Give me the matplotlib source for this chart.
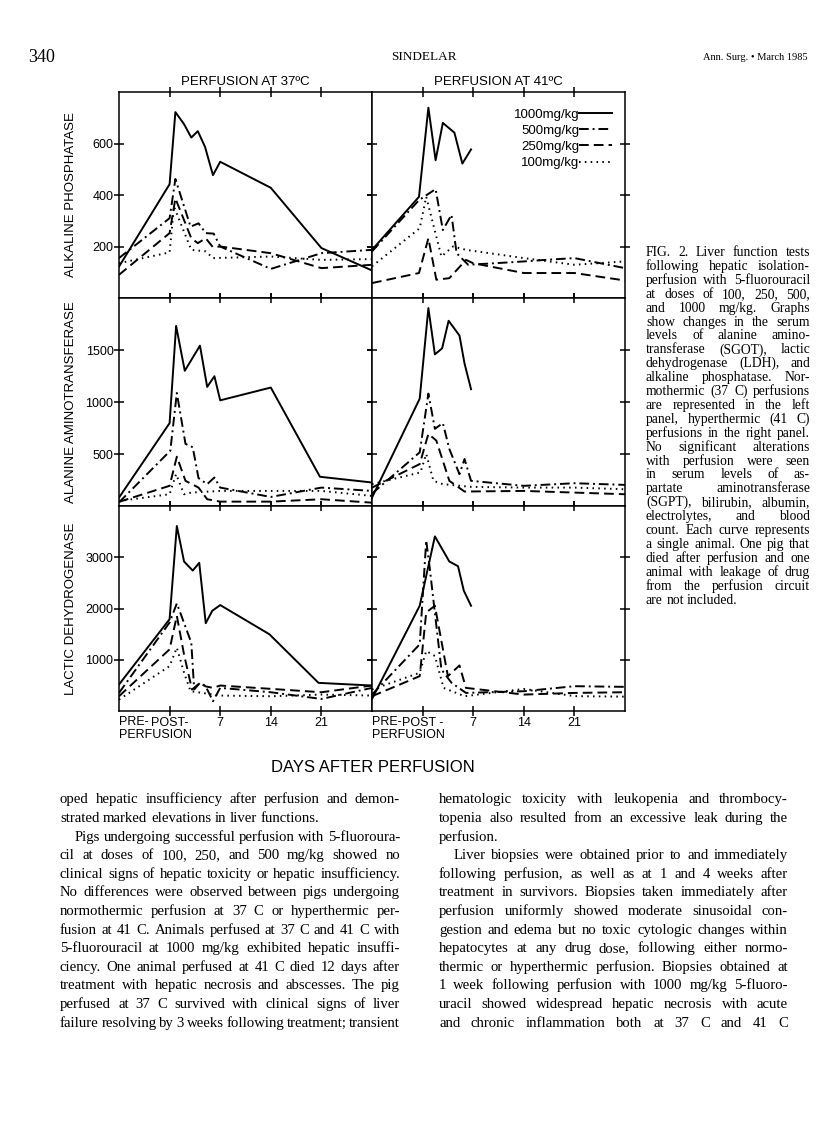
"""Page 340 of Sindelar, Ann. Surg. 1985: Fig. 2, liver function tests after
hepatic isolation-perfusion, with its caption and the surrounding text."""

import matplotlib
matplotlib.use("Agg")
import matplotlib.pyplot as plt
from matplotlib.lines import Line2D
from matplotlib.transforms import blended_transform_factory

W, H = 816, 1132
SANS = "Liberation Sans"
SERIF = "Liberation Serif"
plt.rcParams["font.family"] = SANS

DOSES = ["1000mg/kg", "500mg/kg", "250mg/kg", "100mg/kg"]

# x values: PRE = -7, POST = 0, then days after perfusion
# Alkaline phosphatase, 37 C
ALP37_1000_X = [-7, 0, 0.8, 2.0, 3.0, 3.9, 4.9, 6.0, 7, 14, 21, 28]
ALP37_1000_Y = [122, 442, 722, 675, 623, 648, 587, 477, 529, 428, 194, 107]
ALP37_500_X = [-7, 0, 0.8, 2.9, 4.0, 5.0, 6.1, 7, 14, 21, 28]
ALP37_500_Y = [155, 310, 462, 277, 290, 252, 250, 200, 113, 174, 187]
ALP37_250_X = [-7, 0, 0.8, 3.0, 3.9, 5.0, 6.0, 7, 14, 21, 28]
ALP37_250_Y = [90, 252, 387, 232, 213, 232, 197, 200, 174, 116, 129]
ALP37_100_X = [-7, 0, 0.6, 3.0, 5.0, 6.0, 14, 21, 28]
ALP37_100_Y = [135, 177, 355, 187, 181, 155, 161, 148, 151]

# Alkaline phosphatase, 41 C
ALP41_1000_X = [-7, -0.5, 0.8, 1.8, 2.8, 4.4, 5.5, 6.7]
ALP41_1000_Y = [187, 393, 739, 535, 680, 642, 522, 577]
ALP41_500_X = [-7, -0.5, 1.8, 2.8, 4.0, 4.7, 6.3, 10, 14, 17, 21, 28]
ALP41_500_Y = [181, 380, 423, 264, 323, 174, 129, 135, 142, 148, 155, 116]
ALP41_250_X = [-7, -0.5, 0.8, 1.9, 3.7, 6.0, 7, 14, 21, 28]
ALP41_250_Y = [58, 97, 232, 71, 77, 148, 135, 97, 97, 68]
ALP41_100_X = [-7, -0.4, 0.5, 2.6, 4.2, 6.0, 14, 21, 28]
ALP41_100_Y = [123, 271, 393, 161, 200, 187, 155, 129, 142]

# Alanine aminotransferase, 37 C
ALT37_1000_X = [-7, 0, 0.9, 2.1, 4.2, 5.2, 6.2, 7, 14, 20.8, 28]
ALT37_1000_Y = [81, 797, 1732, 1300, 1542, 1145, 1248, 1016, 1139, 281, 226]
ALT37_500_X = [-7, 0.1, 1.0, 2.2, 3.2, 4.0, 5.2, 6.2, 7, 14, 21, 28]
ALT37_500_Y = [35, 532, 1087, 597, 565, 268, 210, 274, 177, 87, 177, 145]
ALT37_250_X = [-7, 0, 1.0, 2.2, 4.0, 5.2, 7, 14, 21, 28]
ALT37_250_Y = [40, 194, 474, 242, 177, 65, 42, 42, 65, 32]
ALT37_100_X = [-7, 0, 0.9, 2.0, 3.0, 7, 14, 21, 28]
ALT37_100_Y = [48, 113, 306, 113, 129, 145, 145, 145, 97]

# Alanine aminotransferase, 41 C
ALT41_1000_X = [-7, -0.4, 0.8, 1.7, 2.7, 3.6, 5.1, 5.8, 6.7]
ALT41_1000_Y = [81, 1032, 1903, 1458, 1516, 1781, 1639, 1371, 1123]
ALT41_500_X = [-7, -0.4, 0.8, 1.7, 2.8, 3.7, 5.1, 5.8, 6.7, 14, 21, 28]
ALT41_500_Y = [119, 516, 1081, 742, 797, 548, 306, 452, 242, 194, 219, 203]
ALT41_250_X = [-7, -0.4, 0.8, 1.9, 3.7, 5.8, 14, 21, 28]
ALT41_250_Y = [177, 403, 694, 629, 242, 139, 145, 129, 113]
ALT41_100_X = [-7, -0.3, 0.5, 1.5, 2.8, 6.7, 14, 21, 28]
ALT41_100_Y = [210, 323, 500, 242, 210, 184, 177, 177, 161]

# Lactic dehydrogenase, 37 C
LDH37_1000_X = [-7, 0, 1.0, 2.0, 3.2, 4.1, 5.0, 5.9, 7, 13.8, 20.6, 28]
LDH37_1000_Y = [517, 1792, 3610, 2917, 2740, 2891, 1713, 1955, 2067, 1498, 549, 497]
LDH37_500_X = [-7, 0, 1.0, 3.0, 3.4, 4.2, 5.0, 6.0, 7, 14, 21, 28]
LDH37_500_Y = [353, 1727, 2099, 1334, 420, 549, 480, 190, 451, 366, 235, 451]
LDH37_250_X = [-7, 0, 1.0, 2.0, 3.1, 4.2, 5.0, 6.0, 7, 14, 21, 28]
LDH37_250_Y = [288, 1203, 1857, 1100, 419, 549, 480, 451, 497, 432, 366, 497]
LDH37_100_X = [-7, 0, 1.0, 2.0, 2.9, 7, 14, 21, 28]
LDH37_100_Y = [222, 876, 1236, 746, 386, 301, 288, 320, 301]

# Lactic dehydrogenase, 41 C
LDH41_1000_X = [-7, -0.4, 1.7, 3.7, 4.9, 5.7, 6.7]
LDH41_1000_Y = [235, 2054, 3407, 2917, 2825, 2348, 2054]
LDH41_500_X = [-7, -0.4, 0.5, 1.0, 2.6, 4.0, 6.0, 14, 21, 28]
LDH41_500_Y = [320, 1301, 3329, 2773, 811, 550, 353, 386, 484, 471]
LDH41_250_X = [-7, -0.4, 0.5, 1.7, 3.5, 5.1, 6.0, 14, 21, 28]
LDH41_250_Y = [288, 680, 1923, 2054, 680, 889, 451, 320, 353, 366]
LDH41_100_X = [-7, -0.4, 0.5, 1.7, 2.9, 5.8, 14, 21, 28]
LDH41_100_Y = [419, 746, 1171, 1073, 451, 288, 430, 290, 280]

ROW_LABELS = ["ALKALINE PHOSPHATASE", "ALANINE AMINOTRANSFERASE", "LACTIC DEHYDROGENASE"]
ROW_TICKS = [[200, 400, 600], [500, 1000, 1500], [1000, 2000, 3000]]
ROW_YMAX = [800, 2000, 4000]
COL_TITLES = ["PERFUSION AT 37\u00baC", "PERFUSION AT 41\u00baC"]

CAPTION = [
    "FIG. 2. Liver function tests",
    "following hepatic isolation-",
    "perfusion with 5-fluorouracil",
    "at doses of 100, 250, 500,",
    "and 1000 mg/kg. Graphs",
    "show changes in the serum",
    "levels of alanine amino-",
    "transferase (SGOT), lactic",
    "dehydrogenase (LDH), and",
    "alkaline phosphatase. Nor-",
    "mothermic (37 C) perfusions",
    "are represented in the left",
    "panel, hyperthermic (41 C)",
    "perfusions in the right panel.",
    "No significant alterations",
    "with perfusion were seen",
    "in serum levels of as-",
    "partate aminotransferase",
    "(SGPT), bilirubin, albumin,",
    "electrolytes, and blood",
    "count. Each curve represents",
    "a single animal. One pig that",
    "died after perfusion and one",
    "animal with leakage of drug",
    "from the perfusion circuit",
    "are not included.",
]

LEFT_COLUMN = [
    "oped hepatic insufficiency after perfusion and demon-",
    "strated marked elevations in liver functions.",
    "Pigs undergoing successful perfusion with 5-fluoroura-",
    "cil at doses of 100, 250, and 500 mg/kg showed no",
    "clinical signs of hepatic toxicity or hepatic insufficiency.",
    "No differences were observed between pigs undergoing",
    "normothermic perfusion at 37 C or hyperthermic per-",
    "fusion at 41 C. Animals perfused at 37 C and 41 C with",
    "5-fluorouracil at 1000 mg/kg exhibited hepatic insuffi-",
    "ciency. One animal perfused at 41 C died 12 days after",
    "treatment with hepatic necrosis and abscesses. The pig",
    "perfused at 37 C survived with clinical signs of liver",
    "failure resolving by 3 weeks following treatment; transient",
]

RIGHT_COLUMN = [
    "hematologic toxicity with leukopenia and thrombocy-",
    "topenia also resulted from an excessive leak during the",
    "perfusion.",
    "Liver biopsies were obtained prior to and immediately",
    "following perfusion, as well as at 1 and 4 weeks after",
    "treatment in survivors. Biopsies taken immediately after",
    "perfusion uniformly showed moderate sinusoidal con-",
    "gestion and edema but no toxic cytologic changes within",
    "hepatocytes at any drug dose, following either normo-",
    "thermic or hyperthermic perfusion. Biopsies obtained at",
    "1 week following perfusion with 1000 mg/kg 5-fluoro-",
    "uracil showed widespread hepatic necrosis with acute",
    "and chronic inflammation both at 37 C and 41 C",
]

STYLES = ["-", (0, (5, 2, 1, 2)), (0, (5, 2.6)), (0, (0.8, 2.2))]

PANELS = [
    [
        [(ALP37_1000_X, ALP37_1000_Y), (ALP37_500_X, ALP37_500_Y),
         (ALP37_250_X, ALP37_250_Y), (ALP37_100_X, ALP37_100_Y)],
        [(ALP41_1000_X, ALP41_1000_Y), (ALP41_500_X, ALP41_500_Y),
         (ALP41_250_X, ALP41_250_Y), (ALP41_100_X, ALP41_100_Y)],
    ],
    [
        [(ALT37_1000_X, ALT37_1000_Y), (ALT37_500_X, ALT37_500_Y),
         (ALT37_250_X, ALT37_250_Y), (ALT37_100_X, ALT37_100_Y)],
        [(ALT41_1000_X, ALT41_1000_Y), (ALT41_500_X, ALT41_500_Y),
         (ALT41_250_X, ALT41_250_Y), (ALT41_100_X, ALT41_100_Y)],
    ],
    [
        [(LDH37_1000_X, LDH37_1000_Y), (LDH37_500_X, LDH37_500_Y),
         (LDH37_250_X, LDH37_250_Y), (LDH37_100_X, LDH37_100_Y)],
        [(LDH41_1000_X, LDH41_1000_Y), (LDH41_500_X, LDH41_500_Y),
         (LDH41_250_X, LDH41_250_Y), (LDH41_100_X, LDH41_100_Y)],
    ],
]

# panel geometry in page pixels
COL_X = [119, 372]
COL_W = 253
ROW_TOP = [92, 298, 506]
ROW_H = [206, 208, 205]


def fx(px):
    return px / W


def fy(py):
    return 1 - py / H


def set_lines(fig, renderer, lines, x0, x1, y0, step, size, indents=(), ends=()):
    """Draw justified lines of text, word by word (page pixel coordinates).

    y0 is the visual middle of the first line; words sit on a common baseline.
    """
    em = size * fig.dpi / 72
    space = 0.25 * em
    for i, line in enumerate(lines):
        left = x0 + (15 if i in indents else 0)
        words = line.split()
        texts = [fig.text(0, 0, w, fontsize=size, family=SERIF, va="baseline", ha="left")
                 for w in words]
        widths = [t.get_window_extent(renderer).width for t in texts]
        gap = space
        if i not in ends and len(words) > 1:
            gap = max((x1 - left - sum(widths)) / (len(words) - 1), 2.5)
        x = left
        base = y0 + i * step + 0.3 * em
        for t, w in zip(texts, widths):
            t.set_position((fx(x), fy(base)))
            x += w + gap


def main() -> None:
    fig = plt.figure(figsize=(W / 100, H / 100), dpi=100)

    for r in range(3):
        for c in range(2):
            ax = fig.add_axes([fx(COL_X[c]), fy(ROW_TOP[r] + ROW_H[r]), COL_W / W, ROW_H[r] / H])
            for (xs, ys), ls in zip(PANELS[r][c], STYLES):
                ax.plot(xs, ys, color="black", lw=1.4, linestyle=ls)
            ax.set_xlim(-7, 28)
            ax.set_ylim(0, ROW_YMAX[r])
            ax.set_xticks([0, 7, 14, 21])
            ax.set_yticks(ROW_TICKS[r])
            ax.tick_params(direction="inout", length=7, width=1.1, top=True, right=True,
                           labelsize=9, pad=0.5)
            for sp in ax.spines.values():
                sp.set_linewidth(1.1)
            if c == 1:
                ax.tick_params(labelleft=False)
            if r < 2:
                ax.tick_params(labelbottom=False)
            else:
                ax.set_xticklabels(["POST-" if c == 0 else "POST -", "7", "14", "21"])
                trans = blended_transform_factory(ax.transData, ax.transAxes)
                ax.text(-7, -11 / ROW_H[r], "PRE-", transform=trans, ha="left", va="center",
                        fontsize=9)
                ax.text(-7, -24 / ROW_H[r], "PERFUSION", transform=trans, ha="left",
                        va="center", fontsize=9)
            if r == 0 and c == 1:
                handles = [Line2D([], [], color="black", lw=1.4, linestyle=ls) for ls in STYLES]
                ax.legend(handles, DOSES, loc="upper right", bbox_to_anchor=(0.95, 0.92),
                          frameon=False, markerfirst=False, handlelength=2.5,
                          handletextpad=0, labelspacing=0.3, borderpad=0,
                          borderaxespad=0, fontsize=9.5)

        fig.text(fx(71), fy(ROW_TOP[r] + ROW_H[r] / 2), ROW_LABELS[r], rotation=90,
                 ha="center", va="center", fontsize=9.5)

    for c in range(2):
        fig.text(fx(COL_X[c] + COL_W / 2), fy(82), COL_TITLES[c], ha="center", va="center",
                 fontsize=9.5)
    fig.text(fx(373), fy(768), "DAYS AFTER PERFUSION", ha="center", va="center", fontsize=12)

    # running head
    fig.text(fx(28), fy(57), "340", family=SERIF, fontsize=13, ha="left", va="center")
    fig.text(fx(424), fy(57), "SINDELAR", family=SERIF, fontsize=9.5, ha="center", va="center")
    fig.text(fx(808), fy(57), "Ann. Surg. \u2022 March 1985", family=SERIF, fontsize=7.5,
             ha="right", va="center")

    renderer = fig.canvas.get_renderer()
    set_lines(fig, renderer, CAPTION, 646, 810, 252, 13.9, 9.8, ends={25})
    set_lines(fig, renderer, LEFT_COLUMN, 60, 400, 799, 18.6, 10.6, indents={2}, ends={1})
    set_lines(fig, renderer, RIGHT_COLUMN, 439, 788, 799, 18.6, 10.6, indents={3}, ends={2})

    fig.savefig("out.png", dpi=100)
    plt.close(fig)


if __name__ == "__main__":
    main()
